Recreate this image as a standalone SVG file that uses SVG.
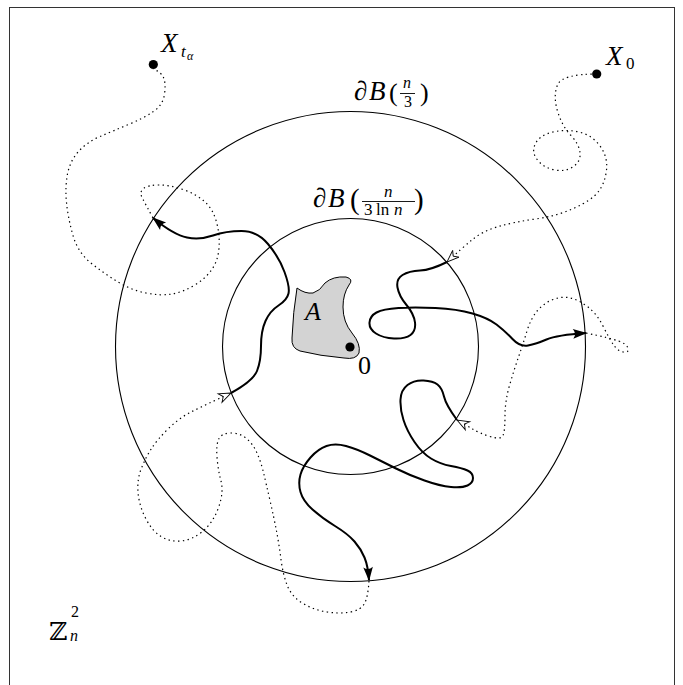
<svg xmlns="http://www.w3.org/2000/svg" width="683" height="685" viewBox="0 0 683 685">
<style>
.frame{fill:none;stroke:#333;stroke-width:1}
.circ{fill:none;stroke:#000;stroke-width:1.1}
.solid{fill:none;stroke:#000;stroke-width:2;stroke-linejoin:round}
.dot{fill:none;stroke:#000;stroke-width:1.2;stroke-dasharray:1.4 3.4}
.t{font-family:"Liberation Serif","Times New Roman",serif;fill:#000}
.i{font-style:italic}
</style>
<defs>
<marker id="arr" markerUnits="userSpaceOnUse" markerWidth="16" markerHeight="12" viewBox="-14 -6 16 12" refX="0" refY="0" orient="auto">
<path d="M1,0 L-13,-4.8 Q-9,0 -13,4.8 Z" fill="#000"/>
</marker>
<marker id="harr" markerUnits="userSpaceOnUse" markerWidth="16" markerHeight="12" viewBox="-14 -6 16 12" refX="0" refY="0" orient="auto">
<path d="M0,0 L-12,-4.6 L-8.5,0 L-12,4.6 Z" fill="#fff" stroke="#000" stroke-width="0.9" stroke-linejoin="miter"/>
</marker>
</defs>
<rect class="frame" x="9.5" y="7.5" width="665" height="690"/>
<g id="outer-circle"><circle class="circ" cx="350.5" cy="346.5" r="235"/></g>
<g id="inner-circle"><circle class="circ" cx="350.5" cy="346.5" r="128"/></g>
<g id="set-A">
<path d="M297,288 Q305,294 313,293 Q320,291 325,283 Q333,276 346,277 Q354,279 349,285 Q343,294 343,307 Q343,322 352,333 Q361,344 359,353 Q356,360 344,358 Q320,356 300,351 Q291,348 292,338 Q293,312 297,288 Z" fill="#d3d3d3" stroke="#000" stroke-width="1"/>
<text class="t i" x="305" y="320" font-size="26">A</text>
</g>
<g id="origin">
<circle cx="350" cy="347" r="4.6" fill="#000"/>
<text class="t" x="358" y="374" font-size="26">0</text>
</g>
<g id="connectors">
<path class="dot" marker-end="url(#harr)" d="M597,74 Q562,74 557.5,85 Q553,96 557.5,111 Q562,126 570.5,135 Q579,144 580,152.5 Q581,161 573.5,166.5 Q566,172 555,170 Q544,168 537.5,160 Q531,152 535.5,143.5 Q540,135 553,132 Q566,129 579,132 Q592,135 600,146 Q608,157 606.5,170 Q605,183 598.5,191.5 Q592,200 574.5,208 Q557,216 535.5,219 Q514,222 498.5,226.5 Q483,231 472.5,239.5 Q462,248 447,262"/>
<path class="solid" marker-end="url(#arr)" d="M447,262 Q431,270 420,270.5 Q409,271 402.5,275 Q396,279 397.5,287.5 Q399,296 406.5,305 Q414,314 415,322.5 Q416,331 410.5,335 Q405,339 394,338.5 Q383,338 376,333.5 Q369,329 369.5,322.5 Q370,316 376.5,312.5 Q383,309 398.5,308 Q414,307 435.5,308 Q457,309 472.5,313.5 Q488,318 496.5,324.5 Q505,331 512.5,339 Q520,347 528,345.5 Q536,344 546.5,339.5 Q557,335 586,333"/>
<path class="dot" marker-end="url(#harr)" d="M586,333 Q610,338 618.5,341 Q627,344 628,348.5 Q629,353 623.5,352 Q618,351 614,345.5 Q610,340 603.5,327 Q597,314 588,307 Q579,300 570.5,298 Q562,296 553,299.5 Q544,303 537.5,310.5 Q531,318 527,331 Q523,344 518.5,357 Q514,370 509.5,385.5 Q505,401 505,416 Q505,431 503,435.5 Q501,440 490,436.5 Q479,433 472.5,429 Q466,425 457,420"/>
<path class="solid" marker-end="url(#arr)" d="M457,420 Q446,405 444,396.5 Q442,388 437.5,384.5 Q433,381 423.5,380.5 Q414,380 407.5,385 Q401,390 400.5,399.5 Q400,409 403.5,420 Q407,431 414.5,442 Q422,453 431,458.5 Q440,464 451,466 Q462,468 467.5,470.5 Q473,473 473,478 Q473,483 467.5,485.5 Q462,488 451,487 Q440,486 424.5,480.5 Q409,475 396,468.5 Q383,462 370,455.5 Q357,449 346,446 Q335,443 326.5,446 Q318,449 310.5,457.5 Q303,466 300.5,474.5 Q298,483 300.5,492 Q303,501 312.5,509.5 Q322,518 335,526 Q348,534 354.5,541.5 Q361,549 364.5,557.5 Q368,566 369,580"/>
<path class="dot" marker-end="url(#harr)" d="M369,581 Q368,597 364.5,603.5 Q361,610 350.5,612 Q340,614 327,612 Q314,610 303,603.5 Q292,597 287.5,586 Q283,575 281,559.5 Q279,544 276.5,531 Q274,518 270,500.5 Q266,483 263.5,472.5 Q261,462 257,453 Q253,444 246.5,438.5 Q240,433 231,433 Q222,433 219,438.5 Q216,444 217,457 Q218,470 221,481 Q224,492 218.5,507.5 Q213,523 202.5,531.5 Q192,540 181,541 Q170,542 161,536.5 Q152,531 145.5,518 Q139,505 138,492 Q137,479 141.5,468 Q146,457 151.5,448.5 Q157,440 168,429 Q179,418 192,411.5 Q205,405 231,393"/>
<path class="solid" marker-end="url(#arr)" d="M231,393 Q253,381 257,371 Q261,361 261,346 Q261,331 265.5,321 Q270,311 278.5,305.5 Q287,300 288.5,293.5 Q290,287 284.5,272 Q279,257 268,244 Q257,231 241.5,231 Q226,231 213,235.5 Q200,240 187,237.5 Q174,235 153,218"/>
<path class="dot" d="M153,218 Q146,205 142.5,198.5 Q139,192 143.5,188.5 Q148,185 159,185 Q170,185 183,189.5 Q196,194 204.5,201.5 Q213,209 216.5,222 Q220,235 219,248 Q218,261 211.5,270 Q205,279 194,285.5 Q183,292 172,294 Q161,296 146,293 Q131,290 118,282 Q105,274 91.5,263.5 Q78,253 73,235.5 Q68,218 66.5,202.5 Q65,187 67.5,174 Q70,161 78.5,151.5 Q87,142 100,136.5 Q113,131 128.5,124.5 Q144,118 153.5,111.5 Q163,105 164.5,94 Q166,83 163.5,77.5 Q161,72 153,69"/>
</g>
<g id="X-t-alpha">
<circle cx="153.3" cy="64.5" r="4.6" fill="#000"/>
<text class="t i" x="161" y="52" font-size="27">X</text>
<text class="t i" x="181" y="57" font-size="17">t</text>
<text class="t i" x="187" y="60" font-size="12">α</text>
</g>
<g id="X-0">
<circle cx="596.7" cy="74" r="4.6" fill="#000"/>
<text class="t i" x="606" y="65" font-size="27">X</text>
<text class="t" x="626" y="68.5" font-size="17">0</text>
</g>
<g id="label-outer">
<text class="t i" x="354" y="100" font-size="27">∂</text>
<text class="t i" x="369" y="100" font-size="27">B</text>
<text class="t" x="389" y="101" font-size="26">(</text>
<text class="t i" x="403" y="88" font-size="16">n</text>
<line x1="400" y1="93.5" x2="415" y2="93.5" stroke="#000" stroke-width="0.9"/>
<text class="t" x="404" y="107" font-size="16">3</text>
<text class="t" x="420" y="101" font-size="26">)</text>
</g>
<g id="label-inner">
<text class="t i" x="313" y="207" font-size="27">∂</text>
<text class="t i" x="328" y="207" font-size="27">B</text>
<text class="t" x="350" y="209" font-size="29">(</text>
<text class="t i" x="384" y="197" font-size="17">n</text>
<line x1="362" y1="201.5" x2="415" y2="201.5" stroke="#000" stroke-width="0.9"/>
<text class="t" x="364" y="215" font-size="17"><tspan>3</tspan><tspan x="376">ln</tspan><tspan class="i" x="394">n</tspan></text>
<text class="t" x="414" y="209" font-size="29">)</text>
</g>
<g id="label-Z">
<text x="49" y="640" font-size="25" font-family="DejaVu Serif, DejaVu Sans, serif">ℤ</text>
<text class="t" x="71" y="617" font-size="16">2</text>
<text class="t i" x="70" y="641" font-size="16">n</text>
</g>
</svg>
